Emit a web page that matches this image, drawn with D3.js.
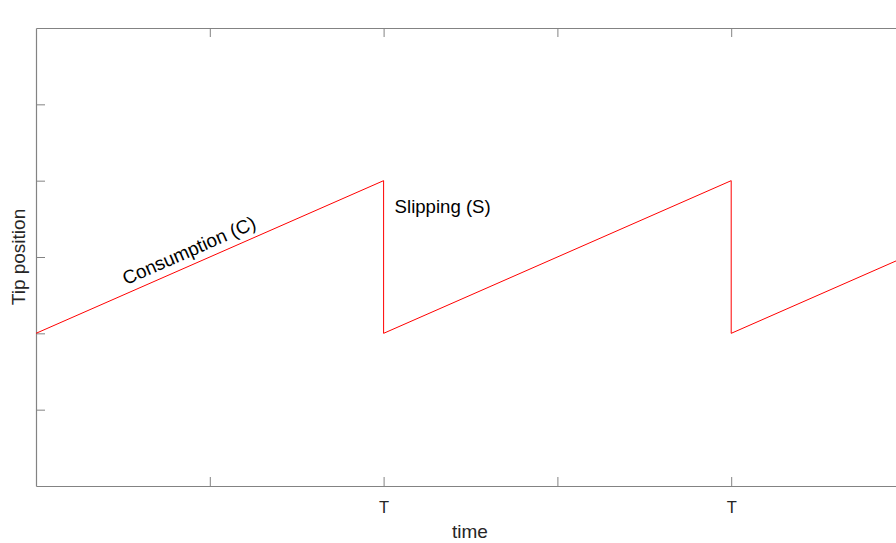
<!DOCTYPE html>
<html>
<head>
<meta charset="utf-8">
<script src="https://cdn.jsdelivr.net/npm/d3@7"></script>
<style>
  body { margin: 0; background: #fff; }
  svg { display: block; font-family: "Liberation Sans", Arial, sans-serif; }
</style>
</head>
<body>
<div id="chart"></div>
<script>
// sawtooth: tip position over time (period T)
var timeVals = [0, 1, 1, 2, 2, 2.5];
var tipVals  = [2, 4, 2, 4, 2, 3];

var xTickVals   = [0.5, 1, 1.5, 2, 2.5];
var xTickLabels = ["", "T", "", "T", ""];
var yTickVals   = [1, 2, 3, 4, 5];

var margin = { top: 28, right: 0, bottom: 57, left: 36 },
    width = 869,
    height = 543 - margin.top - margin.bottom;

var svg = d3.select("#chart")
    .append("svg")
    .attr("width", 896)
    .attr("height", 543)
    .append("g")
    .attr("transform", "translate(" + margin.left + "," + margin.top + ")");

const x = d3.scaleLinear().domain([0, 2.5]).range([0, width]);
const y = d3.scaleLinear().domain([0, 6]).range([height, 0]);

var axisColor = "#838383";

// bottom axis
var gBottom = svg.append("g")
    .attr("transform", `translate(0, ${height})`)
    .call(d3.axisBottom(x).tickValues(xTickVals)
        .tickFormat(function (d, i) { return xTickLabels[i]; })
        .tickSize(-9).tickPadding(15).tickSizeOuter(0));

// top axis
var gTop = svg.append("g")
    .call(d3.axisTop(x).tickValues(xTickVals).tickFormat("")
        .tickSize(-9).tickSizeOuter(0));

// left axis
var gLeft = svg.append("g")
    .call(d3.axisLeft(y).tickValues(yTickVals).tickFormat("")
        .tickSize(-9).tickSizeOuter(0));

[gBottom, gTop, gLeft].forEach(function (g) {
    g.select(".domain").attr("stroke", axisColor).attr("stroke-width", 1.2);
    g.selectAll(".tick line").attr("stroke", axisColor);
    g.selectAll(".tick text").attr("fill", "#262626").style("font-size", "16.5px");
});

// sawtooth line
svg.append("path")
    .datum(timeVals.map(function (t, i) { return [t, tipVals[i]]; }))
    .attr("fill", "none")
    .attr("stroke", "#ff0000")
    .attr("stroke-width", 1)
    .attr("d", d3.line()
        .x(function (d) { return x(d[0]); })
        .y(function (d) { return y(d[1]); }));

// annotations
var ang = Math.atan2(y(tipVals[0]) - y(tipVals[1]), x(timeVals[1]) - x(timeVals[0])) * 180 / Math.PI;
svg.append("text")
    .attr("transform", "translate(" + (x(0.25) + 3) + "," + (y(2) - 48) + ") rotate(" + (-ang) + ")")
    .style("font-size", "19px")
    .attr("fill", "#000")
    .text("Consumption (C)");

svg.append("text")
    .attr("x", x(1) + 11)
    .attr("y", y(4) + 32)
    .style("font-size", "18.6px")
    .attr("fill", "#000")
    .text("Slipping (S)");

// axis labels
svg.append("text")
    .attr("x", 434)
    .attr("y", height + 52)
    .attr("text-anchor", "middle")
    .style("font-size", "19px")
    .attr("fill", "#262626")
    .text("time");

svg.append("text")
    .attr("transform", "translate(" + (-11) + "," + (y(3)) + ") rotate(-90)")
    .attr("text-anchor", "middle")
    .style("font-size", "19px")
    .attr("fill", "#262626")
    .text("Tip position");
</script>
</body>
</html>
